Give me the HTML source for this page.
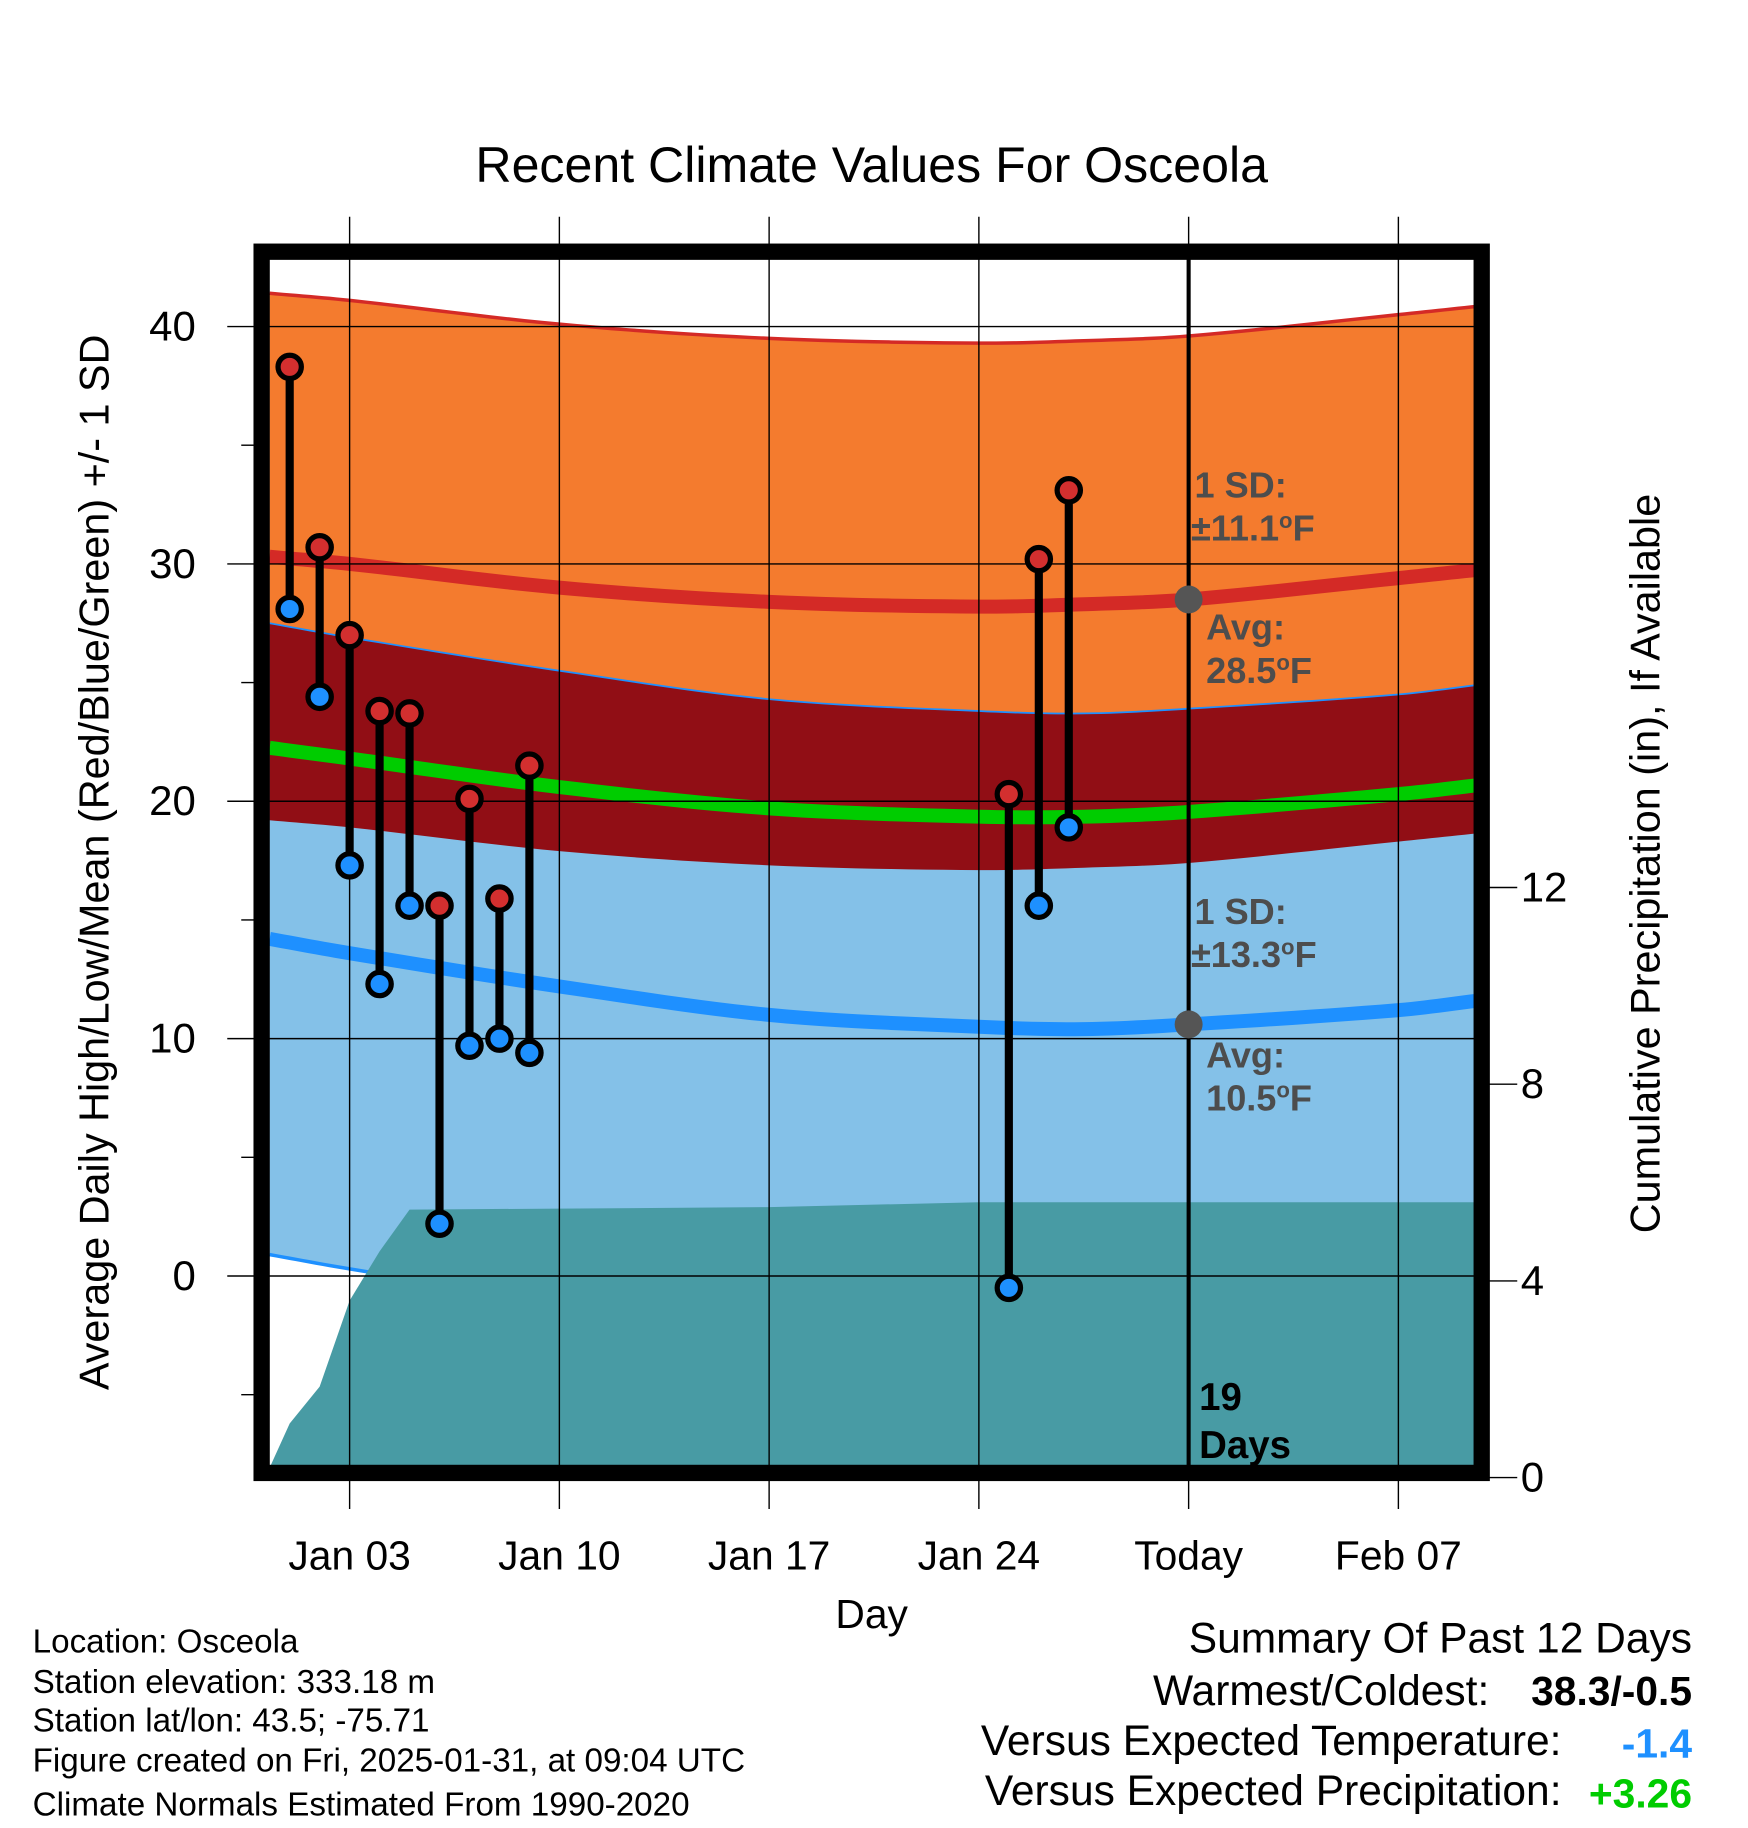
<!DOCTYPE html>
<html><head><meta charset="utf-8"><style>
html,body{margin:0;padding:0;background:#fff}
svg{display:block}
text{font-family:"Liberation Sans",Arial,sans-serif}
</style></head><body>
<svg id="chart" width="1748" height="1828" viewBox="0 0 1500 1568.7" xmlns="http://www.w3.org/2000/svg"></svg>
<script>
// ---- data ----
const obsDays = [1,2,3,4,5,6,7,8,9,25,26,27];
const obsHigh = [38.3,30.7,27.0,23.8,23.7,15.6,20.1,15.9,21.5,20.3,30.2,33.1];
const obsLow  = [28.1,24.4,17.3,12.3,15.6,2.2,9.7,10.0,9.4,-0.5,15.6,18.9];
const normDays = [0.33,3,10,17,24,27.5,31,38,40.64];
const normHigh = [30.3,30.0,29.0,28.4,28.2,28.3,28.5,29.4,29.75];
const normLow  = [14.2,13.6,12.2,11.0,10.5,10.4,10.6,11.2,11.6];
const highSD = 11.1;
const lowSD = 13.3;
const precipDays = [0.33,1,2,3,4,5,10,17,24,31,40.64];
const precipVals = [0.2,1.1,1.85,3.6,4.6,5.45,5.47,5.5,5.6,5.6,5.6];
const xTickDays = [3,10,17,24,31,38];
const xTickLabels = ["Jan 03","Jan 10","Jan 17","Jan 24","Today","Feb 07"];
const yTicks = [0,10,20,30,40];
const pTicks = [0,4,8,12];

// ---- axes ----
const L=231,R=1268,T=222,B=1260;
const xs = d => 300 + (d-3)*180/7;
const ys = v => 1095 - v*20.37;
const yp = p => 1268 - p*42.2;
const svg = document.getElementById('chart');
const NS='http://www.w3.org/2000/svg';
function el(tag, attrs, parent){const e=document.createElementNS(NS,tag);for(const k in attrs)e.setAttribute(k,attrs[k]);(parent||svg).appendChild(e);return e;}
const cl = el('clipPath',{id:'pc'}); el('rect',{x:L,y:T,width:R-L,height:B-T},cl);
const g = el('g',{'clip-path':'url(#pc)'});


// smooth sampled curve (Catmull-Rom) through normal points
function sample(vals){
  const pts=[];const n=normDays.length;
  for(let i=0;i<n-1;i++){
    const x0=xs(normDays[Math.max(i-1,0)]),x1=xs(normDays[i]),x2=xs(normDays[i+1]),x3=xs(normDays[Math.min(i+2,n-1)]);
    const y0=vals[Math.max(i-1,0)],y1=vals[i],y2=vals[i+1],y3=vals[Math.min(i+2,n-1)];
    const m1=(y2-y0)/((x2-x0)||1)*(x2-x1), m2=(y3-y1)/((x3-x1)||1)*(x2-x1);
    for(let k=0;k<12;k++){const t=k/12,t2=t*t,t3=t2*t;
      const y=(2*t3-3*t2+1)*y1+(t3-2*t2+t)*m1+(-2*t3+3*t2)*y2+(t3-t2)*m2;
      pts.push([x1+(x2-x1)*t,y]);}
  }
  pts.push([xs(normDays[n-1]),vals[n-1]]);
  return pts;
}
const hiUp=sample(normHigh.map(v=>v+highSD)), hiDn=sample(normHigh.map(v=>v-highSD));
const loUp=sample(normLow.map(v=>v+lowSD)), loDn=sample(normLow.map(v=>v-lowSD));
const hiAvg=sample(normHigh), loAvg=sample(normLow), mean=sample(normHigh.map((v,i)=>(v+normLow[i])/2));
const str=a=>a.map(p=>p[0]+','+ys(p[1])).join(' ');
const bandPts=(u,d)=>str(u)+' '+str(d.slice().reverse());
let p=el('polygon',{points:bandPts(hiUp,hiDn),fill:'#F47B2E'},g);

p=el('polygon',{points:bandPts(loUp,loDn),fill:'#84C1E8'},g);

p=el('polygon',{points:bandPts(loUp,hiDn),fill:'#910E15'},g);

p=el('polyline',{points:str(hiUp),fill:'none',stroke:'#D42A26','stroke-width':3},g);

p=el('polyline',{points:str(loUp),fill:'none',stroke:'#1E90FF','stroke-width':1.5},g);

p=el('polyline',{points:str(loDn),fill:'none',stroke:'#1E90FF','stroke-width':3},g);

p=el('polyline',{points:str(hiAvg),fill:'none',stroke:'#D42A26','stroke-width':12},g);

p=el('polyline',{points:str(loAvg),fill:'none',stroke:'#1E90FF','stroke-width':12},g);

p=el('polyline',{points:str(mean),fill:'none',stroke:'#00CC00','stroke-width':12},g);

// precip
const pp = precipDays.map((d,i)=>xs(d)+','+yp(precipVals[i])).join(' ')+` ${R},${B+10} ${L},${B+10}`;
p=el('polygon',{points:pp,fill:'#489BA4'},g);

// grid
xTickDays.forEach(d=>{el('line',{x1:xs(d),x2:xs(d),y1:186,y2:1295,stroke:'#000','stroke-width':1.2});});
yTicks.forEach(v=>{el('line',{x1:195,x2:R,y1:ys(v),y2:ys(v),stroke:'#000','stroke-width':1.2});});
[-5,5,15,25,35].forEach(v=>{el('line',{x1:207,x2:218,y1:ys(v),y2:ys(v),stroke:'#000','stroke-width':1.2});});
pTicks.forEach(v=>{el('line',{x1:1278,x2:1302,y1:yp(v),y2:yp(v),stroke:'#000','stroke-width':1.2});});
// today line
p=el('line',{x1:xs(31),x2:xs(31),y1:T,y2:B,stroke:'#000','stroke-width':3.5});

p=el('circle',{cx:xs(31),cy:ys(normHigh[6]),r:12,fill:'#555'});

p=el('circle',{cx:xs(31),cy:ys(normLow[6]),r:12,fill:'#555'});

// obs
obsDays.forEach((d,i)=>{
  const b=el('line',{x1:xs(d),x2:xs(d),y1:ys(obsHigh[i]),y2:ys(obsLow[i]),stroke:'#000','stroke-width':7});
  
  
  const h=el('circle',{cx:xs(d),cy:ys(obsHigh[i]),r:10,fill:'#D32F2F',stroke:'#000','stroke-width':4.5});
  
  
  const l=el('circle',{cx:xs(d),cy:ys(obsLow[i]),r:10,fill:'#1E90FF',stroke:'#000','stroke-width':4.5});
  
  
});
// frame
p=el('rect',{x:224.5,y:216,width:1047,height:1048,fill:'none',stroke:'#000','stroke-width':14});

// labels
function txt(s,attrs,name){const t=el('text',attrs);t.innerHTML=s;return t;}
xTickDays.forEach((d,i)=>txt(xTickLabels[i],{x:xs(d),y:1347,'font-size':35,'text-anchor':'middle'},'x-tick-label'));
yTicks.forEach(v=>txt(String(v),{x:168,y:ys(v)+12,'font-size':36,'text-anchor':'end'},'y-tick-label'));
pTicks.forEach(v=>txt(String(v),{x:1305,y:yp(v)+12,'font-size':36},'precip-tick-label'));
txt('Recent Climate Values For Osceola',{x:748,y:156,'font-size':43,'text-anchor':'middle'},'chart-title');
txt('Day',{x:748,y:1397,'font-size':35,'text-anchor':'middle'},'x-axis-title');
txt('Average Daily High/Low/Mean (Red/Blue/Green) +/- 1 SD',{x:0,y:0,'font-size':35.5,'text-anchor':'middle',transform:'translate(93,740) rotate(-90)'},'y-axis-title');
txt('Cumulative Precipitation (in), If Available',{x:0,y:0,'font-size':35.5,'text-anchor':'middle',transform:'translate(1424,741) rotate(-90)'},'precip-axis-title');
const an={'font-size':31,'font-weight':'bold',fill:'#4D4D4D'};
txt('1 SD:',Object.assign({x:1025,y:427},an),'high-sd-label');
txt('±11.1<tspan dy="-11" font-size="19">o</tspan><tspan dy="11">F</tspan>',Object.assign({x:1022,y:464},an),'high-sd-value');
txt('Avg:',Object.assign({x:1035,y:549},an),'high-avg-label');
txt('28.5<tspan dy="-11" font-size="19">o</tspan><tspan dy="11">F</tspan>',Object.assign({x:1035,y:586},an),'high-avg-value');
txt('1 SD:',Object.assign({x:1025,y:793},an),'low-sd-label');
txt('±13.3<tspan dy="-11" font-size="19">o</tspan><tspan dy="11">F</tspan>',Object.assign({x:1022,y:830},an),'low-sd-value');
txt('Avg:',Object.assign({x:1035,y:916},an),'low-avg-label');
txt('10.5<tspan dy="-11" font-size="19">o</tspan><tspan dy="11">F</tspan>',Object.assign({x:1035,y:953},an),'low-avg-value');
txt('19',{x:1029,y:1210,'font-size':33,'font-weight':'bold'},'days-count');
txt('Days',{x:1029,y:1251,'font-size':33,'font-weight':'bold'},'days-label');
const info=['Location: Osceola','Station elevation: 333.18 m','Station lat/lon: 43.5; -75.71','Figure created on Fri, 2025-01-31, at 09:04 UTC','Climate Normals Estimated From 1990-2020'];
[1418,1453,1486,1520,1558].forEach((y,i)=>txt(info[i],{x:28,y:y,'font-size':28.5},'station-info-line'));
txt('Summary Of Past 12 Days',{x:1452,y:1418,'font-size':36.5,'text-anchor':'end'},'summary-title');
txt('Warmest/Coldest:',{x:1278,y:1463,'font-size':36.5,'text-anchor':'end'},'warmest-coldest-label');
txt('38.3/-0.5',{x:1452,y:1463,'font-size':35,'font-weight':'bold','text-anchor':'end'},'warmest-coldest-value');
txt('Versus Expected Temperature:',{x:1340,y:1506,'font-size':36.5,'text-anchor':'end'},'temp-anomaly-label');
txt('-1.4',{x:1452,y:1508,'font-size':35,'font-weight':'bold',fill:'#1E90FF','text-anchor':'end'},'temp-anomaly-value');
txt('Versus Expected Precipitation:',{x:1340,y:1549,'font-size':36.5,'text-anchor':'end'},'precip-anomaly-label');
txt('+3.26',{x:1452,y:1551,'font-size':35,'font-weight':'bold',fill:'#00CC00','text-anchor':'end'},'precip-anomaly-value');
</script>
</body></html>
